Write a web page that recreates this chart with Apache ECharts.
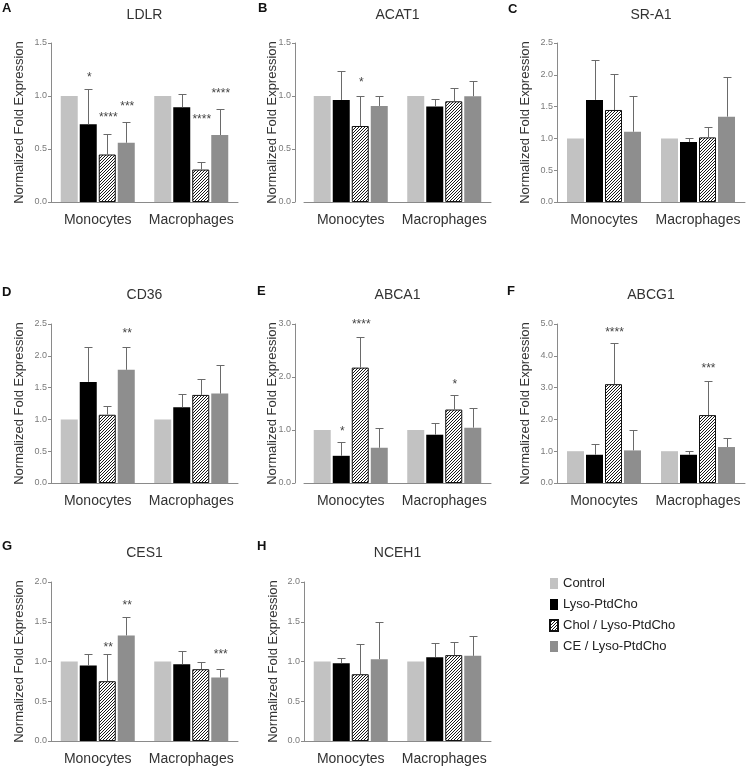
<!DOCTYPE html>
<html><head><meta charset="utf-8">
<script src="https://cdn.jsdelivr.net/npm/echarts@6/dist/echarts.min.js"></script>
<style>html,body{margin:0;padding:0;background:#fff}#c{width:746px;height:768px}</style>
</head><body><div id="c"></div>
<script>
// ---------- DATA ----------
const categories = ['Monocytes', 'Macrophages'];
const treatments = ['Control', 'Lyso-PtdCho', 'Chol / Lyso-PtdCho', 'CE / Lyso-PtdCho'];
// mean[treatment] = [Monocytes, Macrophages]; err = upper end of error bar
const ldlrMean  = [[1, 1], [0.733, 0.894], [0.448, 0.306], [0.559, 0.632]];
const ldlrErr   = [[null, null], [1.064, 1.017], [0.638, 0.373], [0.758, 0.878]];
const ldlrStars = [[0, 1, '*', 1.2], [0, 2, '****', 0.821], [0, 3, '***', 0.931], [1, 2, '****', 0.805], [1, 3, '****', 1.051]];

const acat1Mean  = [[1, 1], [0.963, 0.9], [0.717, 0.95], [0.906, 0.998]];
const acat1Err   = [[null, null], [1.238, 0.969], [1.004, 1.074], [0.998, 1.143]];
const acat1Stars = [[0, 2, '*', 1.153]];

const sra1Mean  = [[1, 1], [1.605, 0.942], [1.447, 1.016], [1.105, 1.342]];
const sra1Err   = [[null, null], [2.237, 1.0], [2.016, 1.174], [1.674, 1.968]];
const sra1Stars = [];

const cd36Mean  = [[1, 1], [1.59, 1.19], [1.073, 1.385], [1.78, 1.406]];
const cd36Err   = [[null, null], [2.146, 1.40], [1.21, 1.64], [2.146, 1.86]];
const cd36Stars = [[0, 3, '**', 2.394]];

const abca1Mean  = [[1, 1], [0.513, 0.911], [2.177, 1.386], [0.665, 1.044]];
const abca1Err   = [[null, null], [0.766, 1.127], [2.753, 1.658], [1.032, 1.411]];
const abca1Stars = [[0, 1, '*', 1.03], [0, 2, '****', 3.04], [1, 2, '*', 1.905]];

const abcg1Mean  = [[1, 1], [0.888, 0.888], [3.108, 2.135], [1.025, 1.131]];
const abcg1Err   = [[null, null], [1.216, 1.004], [4.397, 3.203], [1.66, 1.406]];
const abcg1Stars = [[0, 2, '****', 4.83], [1, 2, '***', 3.70]];

const ces1Mean  = [[1, 1], [0.95, 0.966], [0.752, 0.903], [1.328, 0.798]];
const ces1Err   = [[null, null], [1.097, 1.126], [1.092, 0.992], [1.559, 0.908]];
const ces1Stars = [[0, 2, '**', 1.21], [0, 3, '**', 1.735], [1, 3, '***', 1.118]];

const nceh1Mean  = [[1, 1], [0.979, 1.055], [0.84, 1.08], [1.029, 1.071]];
const nceh1Err   = [[null, null], [1.042, 1.231], [1.218, 1.244], [1.496, 1.315]];
const nceh1Stars = [];

const panelTitles  = ['LDLR', 'ACAT1', 'SR-A1', 'CD36', 'ABCA1', 'ABCG1', 'CES1', 'NCEH1'];
const panelLetters = ['A', 'B', 'C', 'D', 'E', 'F', 'G', 'H'];
const panelMax      = [1.5, 1.5, 2.5, 2.5, 3.0, 5.0, 2.0, 2.0];
const panelInterval = [0.5, 0.5, 0.5, 0.5, 1.0, 1.0, 0.5, 0.5];
const yAxisName = 'Normalized Fold Expression';

const panelData = [
  [ldlrMean, ldlrErr, ldlrStars], [acat1Mean, acat1Err, acat1Stars], [sra1Mean, sra1Err, sra1Stars],
  [cd36Mean, cd36Err, cd36Stars], [abca1Mean, abca1Err, abca1Stars], [abcg1Mean, abcg1Err, abcg1Stars],
  [ces1Mean, ces1Err, ces1Stars], [nceh1Mean, nceh1Err, nceh1Stars]
];

// ---------- LAYOUT / STYLE ----------
const colLeft = [51, 304, 557], colWidth = [187, 187, 188];
const rowTop = [43, 324, 582], plotH = 159;
const yOffsets = [0, 9, 0, 0, 9, 0, 0, 0];
const nameGaps = [25, 16, 25, 25, 16, 25, 25, 24.5];
const letterPos = [[2, 8], [258, 8], [508, 9], [2, 292], [257, 291], [507, 291], [2, 546], [257, 546]];
const titleY = [15, 15, 15, 295, 295, 295, 553, 553, 553];
const colors = ['#c2c2c2', '#000000', '#ffffff', '#8e8e8e'];
const FONT = '"Liberation Sans", Arial, Helvetica, sans-serif';
const BW = 17, GAPPX = 2;

// diagonal "/" hatch pattern tile
const tile = document.createElement('canvas');
tile.width = 3; tile.height = 3;
(function () {
  const g = tile.getContext('2d');
  g.fillStyle = '#fff'; g.fillRect(0, 0, 3, 3);
  g.fillStyle = '#1a1a1a';
  g.fillRect(2, 0, 1, 1); g.fillRect(1, 1, 1, 1); g.fillRect(0, 2, 1, 1);
})();
const hatchFill = { image: tile, repeat: 'repeat' };

const grid = [], xAxis = [], yAxis = [], series = [], graphic = [];

panelData.forEach((pd, i) => {
  const [mean, err, stars] = pd;
  const col = i % 3, row = Math.floor(i / 3);
  grid.push({ left: colLeft[col], top: rowTop[row], width: colWidth[col], height: plotH, outerBoundsMode: 'none', containLabel: false });
  xAxis.push({
    gridIndex: i, type: 'category', data: categories,
    axisLine: { lineStyle: { color: '#8a8a8a', width: 1 } },
    axisTick: { show: false },
    axisLabel: { interval: 0, hideOverlap: false, fontSize: 14, color: '#333', margin: 11, fontFamily: FONT }
  });
  yAxis.push({
    gridIndex: i, type: 'value', min: 0, max: panelMax[i], interval: panelInterval[i],
    offset: yOffsets[i],
    name: yAxisName, nameLocation: 'middle', nameGap: nameGaps[i], nameMoveOverlap: false,
    nameTextStyle: { fontSize: 13, color: '#333', fontFamily: FONT },
    axisLine: { show: true, lineStyle: { color: '#8a8a8a', width: 1 } },
    axisTick: { show: true, length: 3, lineStyle: { color: '#8a8a8a' } },
    axisLabel: { fontSize: 9, color: '#7a7a7a', margin: 4, fontFamily: FONT, formatter: v => v.toFixed(1) },
    splitLine: { show: false }
  });
  treatments.forEach((t, k) => {
    const s = {
      name: t, type: 'bar', xAxisIndex: i, yAxisIndex: i,
      data: mean[k], barWidth: BW, barGap: (GAPPX / BW * 100).toFixed(1) + '%',
      itemStyle: { color: colors[k] }, silent: true, z: 2
    };
    if (k === 2) {
      s.itemStyle = { color: hatchFill, borderColor: '#111', borderWidth: 1 };
    }
    series.push(s);
  });
  // error bars
  const errItems = [];
  err.forEach((arr, k) => arr.forEach((e, c) => { if (e != null) errItems.push([c, k, mean[k][c], e]); }));
  series.push({
    type: 'custom', xAxisIndex: i, yAxisIndex: i, silent: true, z: 3,
    encode: { x: 0, y: [2, 3] }, data: errItems,
    renderItem: (params, api) => {
      const c = api.value(0), k = api.value(1), m = api.value(2), e = api.value(3);
      const p0 = api.coord([c, m]), p1 = api.coord([c, e]);
      const x = Math.round(p0[0] + (k - 1.5) * (BW + GAPPX)) + 0.5;
      const yt = Math.round(p1[1]) + 0.5;
      return { type: 'group', children: [
        { type: 'line', shape: { x1: x, y1: p0[1], x2: x, y2: yt }, style: { stroke: '#6a6a6a', lineWidth: 1 } },
        { type: 'line', shape: { x1: x - 4, y1: yt, x2: x + 4, y2: yt }, style: { stroke: '#6a6a6a', lineWidth: 1 } }
      ] };
    }
  });
  // significance stars
  series.push({
    type: 'custom', xAxisIndex: i, yAxisIndex: i, silent: true, z: 4,
    encode: { x: 0, y: 2 }, data: stars.map(s => [s[0], s[1], s[3]]),
    renderItem: (params, api) => {
      const st = stars[params.dataIndex];
      const p = api.coord([api.value(0), api.value(2)]);
      const x = p[0] + (api.value(1) - 1.5) * (BW + GAPPX) + 1;
      return { type: 'text', x: x, y: p[1] + 3, style: { text: st[2], fill: '#444', font: '12px ' + FONT, align: 'center', verticalAlign: 'middle' } };
    }
  });
  // panel title & letter
  graphic.push({ type: 'text', x: colLeft[col] + colWidth[col] / 2, y: titleY[i], silent: true,
    style: { text: panelTitles[i], fill: '#333', font: '14px ' + FONT, align: 'center', verticalAlign: 'middle' } });
  graphic.push({ type: 'text', x: letterPos[i][0], y: letterPos[i][1], silent: true,
    style: { text: panelLetters[i], fill: '#111', font: 'bold 13px ' + FONT, align: 'left', verticalAlign: 'middle' } });
});

const chart = echarts.init(document.getElementById('c'), null, { renderer: 'canvas' });
chart.setOption({
  animation: false,
  backgroundColor: '#fff',
  textStyle: { fontFamily: FONT },
  grid, xAxis, yAxis, series, graphic,
  legend: {
    data: treatments, orient: 'vertical', left: 549, top: 577, padding: 0,
    icon: 'rect', itemWidth: 8, itemHeight: 11, itemGap: 8, selectedMode: false,
    textStyle: { fontSize: 13, color: '#222', fontFamily: FONT, padding: [0, 0, 0, 0] }
  }
});
</script></body></html>
